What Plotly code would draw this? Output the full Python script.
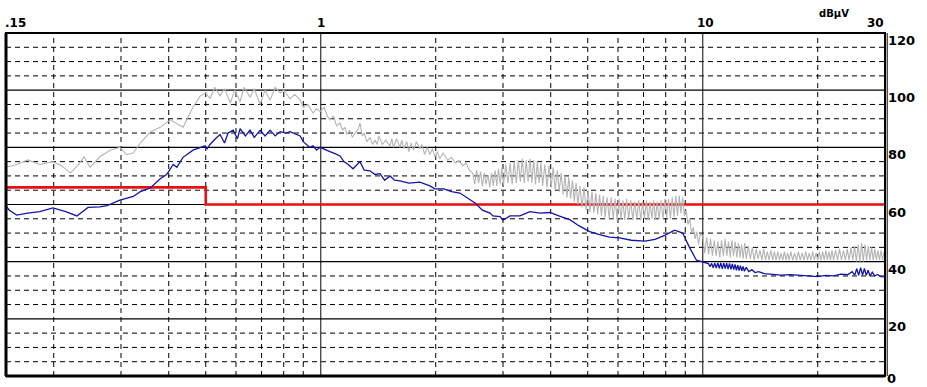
import math
import plotly.graph_objects as go

# ---------------- data ----------------
# Limit line (dBuV)
limit_freq = [0.15, 0.5, 0.5, 30.0]
limit_db = [66, 66, 60, 60]

# Peak trace (gray)
peak_freq = [0.150, 0.160, 0.171, 0.184, 0.199, 0.210, 0.221, 0.234, 0.240, 0.249,
             0.264, 0.281, 0.298, 0.310, 0.323, 0.337, 0.358, 0.380, 0.404, 0.436,
             0.463, 0.484, 0.500, 0.513, 0.528, 0.545, 0.560, 0.580, 0.595, 0.615,
             0.630, 0.653, 0.670, 0.694, 0.715, 0.737, 0.760, 0.783, 0.800, 0.831,
             0.855, 0.883, 0.900, 0.925, 0.955, 0.975, 0.996, 1.02, 1.04, 1.057,
             1.08, 1.10, 1.123, 1.14, 1.157, 1.17, 1.19, 1.21, 1.229, 1.25,
             1.267, 1.285, 1.30, 1.32, 1.346, 1.367, 1.387, 1.405, 1.42, 1.45,
             1.48, 1.518, 1.535, 1.55, 1.58, 1.612, 1.63, 1.65, 1.68, 1.70,
             1.725, 1.75, 1.78, 1.818, 1.84, 1.87, 1.90, 1.931, 1.96, 1.99,
             2.02, 2.05, 2.09, 2.15, 2.20, 2.25, 2.30, 2.35, 2.40, 2.45,
             2.50, 2.53, 2.56, 2.59, 2.62, 2.65, 2.68, 2.71, 2.74, 2.77,
             2.80, 2.83, 2.86, 2.89, 2.92, 2.95, 2.98, 3.01, 3.05, 3.09,
             3.13, 3.17, 3.21, 3.25, 3.29, 3.33, 3.37, 3.41, 3.45, 3.49,
             3.53, 3.57, 3.61, 3.65, 3.69, 3.73, 3.77, 3.81, 3.86, 3.91,
             3.96, 4.01, 4.06, 4.11, 4.16, 4.21, 4.26, 4.31, 4.36, 4.41,
             4.46, 4.51, 4.56, 4.61, 4.66, 4.71, 4.77, 4.83, 4.89, 4.95,
             5.01, 5.07, 5.13, 5.19, 5.25, 5.31, 5.37, 5.43, 5.49, 5.55,
             5.62, 5.69, 5.76, 5.83, 5.90, 5.97, 6.04, 6.11, 6.18, 6.25,
             6.32, 6.40, 6.48, 6.56, 6.64, 6.72, 6.80, 6.88, 6.96, 7.04,
             7.12, 7.20, 7.28, 7.36, 7.44, 7.52, 7.60, 7.69, 7.78, 7.87,
             7.96, 8.05, 8.14, 8.23, 8.32, 8.41, 8.50, 8.59, 8.68, 8.77,
             8.86, 8.95, 9.05, 9.15, 9.25, 9.35, 9.45, 9.55, 9.65, 9.75,
             9.85, 10.00, 10.12, 10.24, 10.36, 10.48, 10.60, 10.72, 10.84, 10.96,
             11.08, 11.20, 11.32, 11.44, 11.56, 11.68, 11.80, 11.92, 12.04, 12.16,
             12.28, 12.40, 12.52, 12.64, 12.76, 12.88, 13.00, 13.16, 13.32, 13.48,
             13.64, 13.80, 13.96, 14.12, 14.28, 14.44, 14.60, 14.76, 14.92, 15.08,
             15.24, 15.40, 15.56, 15.72, 15.88, 16.04, 16.20, 16.36, 16.52, 16.68,
             16.84, 17.00, 17.20, 17.40, 17.60, 17.80, 18.00, 18.20, 18.40, 18.60,
             18.80, 19.00, 19.20, 19.40, 19.60, 19.80, 20.00, 20.20, 20.40, 20.60,
             20.80, 21.00, 21.20, 21.40, 21.60, 21.80, 22.00, 22.27, 22.54, 22.81,
             23.08, 23.35, 23.62, 23.89, 24.16, 24.43, 24.70, 24.97, 25.24, 25.51,
             25.78, 26.05, 26.32, 26.59, 26.86, 27.13, 27.40, 27.67, 27.94, 28.21,
             28.48, 28.75, 29.02, 29.29, 29.56, 29.83, 30.00]
peak_db = [73, 74, 75.6, 74, 75, 73.5, 71, 74.5, 76.7, 73,
           76.7, 79, 80, 77.5, 78, 81.5, 85.4, 87, 89.6, 87,
           94, 98, 99, 97, 101, 98, 100.5, 95.5, 100, 96,
           101, 97.5, 100.5, 95, 100, 96.5, 101, 99, 100, 97,
           98.5, 96.6, 94, 95, 92, 93.5, 92.5, 94, 91, 89.6,
           91, 87.5, 88.5, 86, 87, 84.5, 86, 83.5, 85, 86,
           88.5, 84, 85, 82, 83.5, 81, 82.5, 81, 84, 81,
           82.5, 80.5, 83, 80, 83, 80, 82.5, 79.5, 82, 78.5,
           81.5, 79, 82, 79.5, 81, 77.5, 80, 77.5, 79.5, 76.7,
           78.5, 76, 78, 75.5, 76.5, 74.5, 75.5, 73.5, 74.5, 72,
           71, 67, 72, 67.5, 71.5, 66.5, 71, 67, 70.5, 66,
           71, 66.5, 72, 66.5, 72.5, 67, 73, 67, 74, 67.5,
           74.5, 67, 75, 67.5, 75.5, 68, 76, 67.5, 75.5, 68,
           76, 67.5, 75.5, 67, 75, 67.5, 74.5, 66.5, 74, 66,
           73.5, 66, 73, 65, 72, 64.5, 71, 63.5, 70, 62.5,
           69.5, 62, 68.5, 61, 67.5, 60, 66.5, 59, 66, 58,
           65, 57.5, 64.5, 57, 64, 56.5, 63.5, 56, 63, 55.5,
           62.5, 55, 62.5, 55, 62, 54.5, 62, 55, 61.5, 54.5,
           62, 55, 61.5, 54.5, 61, 55, 61.5, 54.5, 61, 55,
           61.5, 54.5, 61, 55, 61.5, 54.5, 61, 55, 61.5, 55,
           62, 55.5, 62, 55, 62.5, 55.5, 63, 56, 63, 57,
           62.5, 56, 58, 53, 55, 50, 52, 48, 50.5, 46,
           49.5, 49, 43, 48.5, 42.5, 48, 42, 47.5, 42, 47,
           41.5, 47.5, 42, 48, 42, 47, 41.5, 47.5, 42, 47,
           41.5, 46.5, 41.5, 46, 41, 46.5, 41, 45.5, 41, 45,
           40.5, 44.5, 41, 44, 40.5, 44.5, 40.5, 43.5, 40.5, 44,
           40.5, 43.5, 40.5, 43.5, 40.5, 43, 40.5, 43.5, 40.5, 43,
           40.5, 43.5, 40.5, 43, 40.5, 43.5, 40.5, 43, 40.5, 43.5,
           40.5, 43, 40.5, 43.5, 40.5, 43, 40.5, 43.5, 40.5, 43.5,
           40.5, 44, 40.5, 43.5, 40.5, 44, 40.5, 44, 40.5, 44.5,
           40.5, 44, 40.5, 44.5, 40.5, 45, 40.5, 45.5, 40, 46,
           40, 46.5, 40, 46, 40.5, 45.5, 40.5, 45, 40.5, 44.5,
           40.5, 44, 40.5, 44, 40.5, 43.5, 41]

# Average trace (blue)
avg_freq = [0.150, 0.153, 0.160, 0.171, 0.184, 0.199, 0.215, 0.230, 0.246, 0.264,
            0.276, 0.298, 0.323, 0.337, 0.358, 0.380, 0.395, 0.411, 0.420, 0.436,
            0.463, 0.484, 0.498, 0.504, 0.513, 0.530, 0.545, 0.560, 0.572, 0.590,
            0.605, 0.615, 0.635, 0.653, 0.670, 0.694, 0.715, 0.737, 0.760, 0.783,
            0.810, 0.831, 0.860, 0.883, 0.900, 0.910, 0.935, 0.955, 0.975, 0.996,
            1.02, 1.057, 1.09, 1.123, 1.15, 1.18, 1.215, 1.267, 1.30, 1.346,
            1.387, 1.429, 1.47, 1.518, 1.56, 1.612, 1.70, 1.818, 1.931, 1.990,
            2.10, 2.20, 2.314, 2.40, 2.535, 2.65, 2.774, 2.824, 2.946, 3.001,
            3.128, 3.322, 3.527, 3.75, 3.981, 4.2, 4.487, 4.75, 5.06, 5.366,
            5.703, 6.06, 6.5, 7.06, 7.5, 7.95, 8.44, 8.86, 9.23, 9.63,
            10.0, 10.2, 10.35, 10.45, 10.55, 10.65, 10.75, 10.85, 10.95, 11.05,
            11.15, 11.25, 11.35, 11.45, 11.55, 11.65, 11.75, 11.85, 11.95, 12.05,
            12.15, 12.25, 12.35, 12.45, 12.55, 12.65, 12.75, 12.85, 13.0, 13.2,
            13.45, 13.7, 14.0, 14.5, 15.0, 16.0, 17.0, 18.0, 19.0, 20.0,
            21.0, 22.0, 23.0, 24.0, 24.6, 25.0, 25.3, 25.6, 25.9, 26.2,
            26.5, 26.8, 27.1, 27.4, 27.8, 28.2, 28.7, 29.2, 30.0]
avg_db = [59.5, 58, 56.3, 57, 57.5, 58.8, 57.5, 56, 59, 59.2,
          59.6, 61.5, 62.8, 64.5, 65.8, 69, 70.5, 74, 73, 76.5,
          79, 80, 80.5, 79.5, 81, 83, 84.5, 81.5, 85, 86,
          83, 86.5, 84, 86, 83.5, 86, 84, 86, 84, 85.5,
          85, 85.5, 84.5, 84, 82, 81.5, 80, 80.5, 79, 80,
          79.5, 78.5, 77.8, 77, 75, 74, 72.5, 75, 72, 71.8,
          70.5, 70.8, 68.5, 70, 68.5, 68.3, 67.5, 67.8, 66.5, 65.5,
          65.5, 64.5, 64, 62.5, 60.5, 58, 57, 56, 55.8, 54.5,
          56, 56, 57.5, 57, 57.2, 56, 54.7, 52.5, 50.5, 49.5,
          48.6, 48.3, 47.5, 47.2, 47.8, 49.2, 51, 50, 45, 40.5,
          39.8, 39.5, 39.3, 38.2, 39.4, 37.9, 39.5, 37.8, 39.6, 37.7,
          39.6, 37.5, 39.5, 37.6, 39.5, 37.4, 39.4, 37.3, 39.2, 37.2,
          39, 37, 38.8, 36.9, 38.6, 36.8, 38.3, 36.7, 38, 36.5,
          37.2, 36.2, 36.5, 35.8, 35.6, 35.3, 35.5, 35.2, 35.0, 34.8,
          35.2, 35.0, 35.6, 35.5, 36.5, 35.3, 37.5, 35.2, 37.9, 35.3,
          37.6, 35.2, 37, 35.0, 36.3, 35, 35.5, 34.8, 34.7]

# Axis labels / grid definitions
x_tick_vals = [0.15, 1, 10, 30]
x_tick_text = [".15", "1", "10", "30"]
x_major_grid = [1, 10]
x_minor_grid = [0.2, 0.3, 0.4, 0.5, 0.6, 0.7, 0.8, 0.9,
                2, 3, 4, 5, 6, 7, 8, 9, 20]
y_tick_vals = [120, 100, 80, 60, 40, 20, 0]
y_major_grid = [20, 40, 60, 80, 100]
y_minor_grid = [5, 10, 15, 25, 30, 35, 45, 50, 55, 65, 70, 75, 85, 90, 95, 105, 110, 115]
unit_label = "dBµV"

# ---------------- figure ----------------
fig = go.Figure()
fig.add_trace(go.Scatter(x=limit_freq, y=limit_db, mode="lines",
                         line=dict(color="#e81010", width=2.6), hoverinfo="skip"))
fig.add_trace(go.Scatter(x=peak_freq, y=peak_db, mode="lines",
                         line=dict(color="#b4b4b4", width=1.1), hoverinfo="skip"))
fig.add_trace(go.Scatter(x=avg_freq, y=avg_db, mode="lines",
                         line=dict(color="#1414a8", width=1.3), hoverinfo="skip"))

shapes = []
DASH = "5px,4px"
# shapes on a log axis take raw data values
for v in x_minor_grid:
    shapes.append(dict(type="line", xref="x", yref="paper", x0=v, x1=v,
                       y0=0, y1=1, line=dict(color="black", width=1, dash=DASH), layer="below"))
for v in y_minor_grid:
    shapes.append(dict(type="line", xref="paper", yref="y", x0=0, x1=1, y0=v, y1=v,
                       line=dict(color="black", width=1, dash=DASH), layer="below"))
for v in x_major_grid:
    shapes.append(dict(type="line", xref="x", yref="paper", x0=v, x1=v,
                       y0=0, y1=1, line=dict(color="#303030", width=1.2), layer="below"))
for v in y_major_grid:
    shapes.append(dict(type="line", xref="paper", yref="y", x0=0, x1=1, y0=v, y1=v,
                       line=dict(color="black", width=1.2), layer="below"))
# frame
shapes.append(dict(type="rect", xref="paper", yref="paper", x0=0, x1=1, y0=0, y1=1,
                   line=dict(color="black", width=2)))
shapes.append(dict(type="line", xref="paper", yref="paper", x0=0, x1=1, y0=0, y1=0,
                   line=dict(color="black", width=3)))
shapes.append(dict(type="line", xref="paper", yref="paper", x0=0, x1=0, y0=0, y1=1,
                   line=dict(color="black", width=3)))
shapes.append(dict(type="line", xref="paper", yref="paper", x0=1.0025, x1=1.0025, y0=0, y1=1,
                   line=dict(color="black", width=1)))

annotations = []
anchors = ["left", "center", "center", "right"]
shifts = [-3, 0, 3, 1]
for v, t, a, s in zip(x_tick_vals, x_tick_text, anchors, shifts):
    annotations.append(dict(x=math.log10(v), y=1, xref="x", yref="paper", text="<b>%s</b>" % t,
                            showarrow=False, xanchor=a, yanchor="bottom", xshift=s, yshift=1,
                            font=dict(family="DejaVu Sans", size=12, color="black")))
for v in y_tick_vals:
    if v > 0:
        annotations.append(dict(x=1, y=v, xref="paper", yref="y", text="<b>%d</b>" % v,
                                showarrow=False, xanchor="left", yanchor="top", xshift=1, yshift=2,
                                font=dict(family="DejaVu Sans", size=13, color="black")))
    else:
        annotations.append(dict(x=1, y=v, xref="paper", yref="y", text="<b>%d</b>" % v,
                                showarrow=False, xanchor="left", yanchor="bottom", xshift=1,
                                yshift=-11, borderpad=0,
                                font=dict(family="DejaVu Sans", size=13, color="black")))
annotations.append(dict(x=1, y=1, xref="paper", yref="paper", text="<b>%s</b>" % unit_label,
                        showarrow=False, xanchor="center", yanchor="bottom", xshift=-51, yshift=12,
                        font=dict(family="DejaVu Sans", size=10, color="black")))

fig.update_layout(
    width=927, height=387,
    margin=dict(l=6, r=42, t=33, b=11),
    paper_bgcolor="white", plot_bgcolor="white",
    showlegend=False,
    xaxis=dict(type="log", range=[math.log10(0.15), math.log10(30)], showgrid=False,
               showticklabels=False, zeroline=False, ticks=""),
    yaxis=dict(range=[0, 120], showgrid=False, showticklabels=False, zeroline=False, ticks=""),
    shapes=shapes, annotations=annotations,
)

fig.write_html("out.html", config={"displayModeBar": False},
               post_script="document.body.style.margin='0';")
